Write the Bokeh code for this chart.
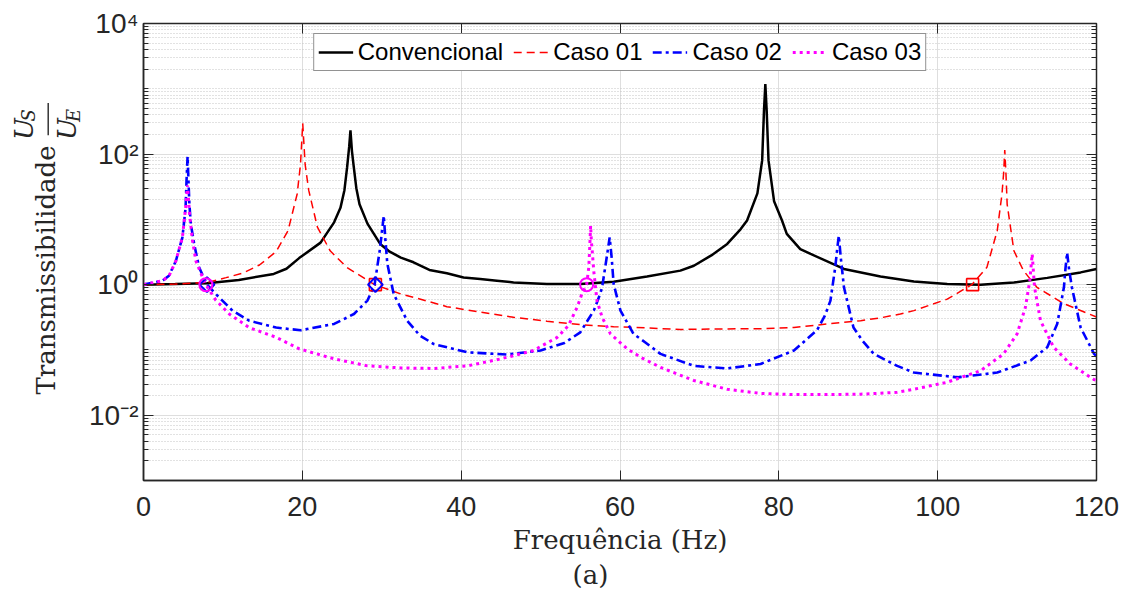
import math
from bokeh.plotting import figure
from bokeh.models import (Range1d, FixedTicker, LogAxis, LinearAxis,
                          CustomJSTickFormatter, Title)
from bokeh.core.properties import value
from bokeh.layouts import row
from bokeh.embed import file_html
from bokeh.resources import INLINE

# ---------------- data ----------------
freq_conv = [0, 4, 8, 12, 16.4, 18.0, 19.6, 22.3, 24.0, 24.8, 25.3, 25.64, 25.9, 26.06, 26.25, 26.48,
             26.8, 27.2, 28.2, 29.8, 31.0, 32.4, 34.0, 36.0, 38.2, 40.3, 42.4, 44.5, 46.6, 50.8,
             55.0, 59.2, 63.4, 67.6, 69.3, 71.5, 73.5, 75.2, 76.0, 77.3, 77.9, 78.13, 78.3, 78.47,
             78.7, 79.4, 80.4, 81.0, 82.7, 84.0, 88.2, 92.8, 97.0, 101.2, 105.4, 109.6, 113.8,
             118.0, 120]
trans_conv = [1.0, 1.02, 1.05, 1.18, 1.46, 1.75, 2.55, 4.4, 9.0, 15, 28, 63, 130, 230, 110, 63,
              30, 17, 8.6, 4.2, 3.2, 2.6, 2.2, 1.68, 1.49, 1.29, 1.22, 1.15, 1.08, 1.02,
              1.02, 1.11, 1.33, 1.64, 1.95, 2.8, 4.2, 7.1, 9.6, 25, 80, 460, 1180, 460,
              80, 19, 9.6, 6, 3.5, 2.95, 1.74, 1.33, 1.12, 1.02, 1.0, 1.08, 1.27,
              1.54, 1.74]

freq_c1 = [0, 4, 8, 10.4, 12.5, 14.6, 16.7, 18.2, 19.35, 19.77, 20.05, 20.35, 20.8, 21.9, 23.5,
           25.6, 29.1, 32.4, 34.0, 38.2, 42.4, 46.6, 50.8, 55.0, 59.2, 63.4, 67.6, 73.5, 78.0,
           81.9, 86.1, 90.3, 92.8, 95.3, 97.0, 101.2, 104.3, 106.2, 107.5, 108.1, 108.3, 108.45,
           108.6, 108.75, 109.6, 110.8, 112.5, 115.9, 120]
trans_c1 = [1.0, 1.02, 1.08, 1.28, 1.5, 2.0, 3.2, 6.7, 24.5, 70, 295, 70, 28, 7.6, 3.3,
            1.84, 1.0, 0.72, 0.64, 0.46, 0.38, 0.316, 0.275, 0.244, 0.227, 0.217, 0.206, 0.21, 0.212,
            0.22, 0.25, 0.28, 0.31, 0.355, 0.4, 0.6, 1.0, 1.84, 6.7, 24.5, 50, 115,
            50, 17, 3.3, 1.64, 0.91, 0.51, 0.32]

freq_c2 = [0, 2.4, 3.2, 4.07, 4.9, 5.3, 5.42, 5.55, 5.66, 5.78, 5.96, 6.38, 7.0, 8.0, 9.1, 11.2,
           13.3, 16.7, 19.8, 24.0, 26.5, 28.2, 29.1, 29.8, 30.05, 30.26, 30.45, 30.7, 31.5, 33.2,
           34.8, 36.55, 40.8, 45.8, 50.0, 53.0, 55.0, 55.9, 56.7, 57.5, 57.75, 58.4, 58.7, 58.95,
           59.2, 60.06, 61.7, 63.2, 65.1, 69.3, 73.5, 77.7, 81.9, 84.8, 85.8, 86.5, 87.1, 87.35,
           87.55, 87.8, 88.2, 89.4, 90.5, 91.95, 94.9, 97.0, 102.5, 107.5, 111.7, 113.8, 115.05,
           115.9, 116.1, 116.3, 116.55, 116.9, 118.0, 119.7, 120]
trans_c2 = [1.0, 1.15, 1.37, 2.3, 5.3, 15, 40, 91, 40, 17, 8.5, 4.2, 1.84, 1.0, 0.72, 0.4,
            0.28, 0.22, 0.2, 0.25, 0.355, 0.57, 1.0, 3.7, 7, 11.4, 5, 2.1, 0.72, 0.28,
            0.166, 0.123, 0.092, 0.085, 0.098, 0.128, 0.186, 0.28, 0.4, 0.72, 0.91, 3.0, 5.3, 2.6,
            1.02, 0.4, 0.176, 0.13, 0.087, 0.057, 0.052, 0.061, 0.098, 0.2, 0.335, 0.57, 1.84, 3.5,
            5.6, 2.6, 0.91, 0.22, 0.14, 0.087, 0.057, 0.045, 0.038, 0.045, 0.069, 0.11, 0.25,
            0.91, 1.8, 3.1, 1.7, 0.91, 0.22, 0.087, 0.08]

freq_c3 = [0, 2.4, 3.2, 4.07, 4.9, 5.3, 5.45, 5.55, 5.65, 5.8, 6.17, 6.6, 7.43, 7.85, 9.1,
           10.8, 13.3, 16.7, 19.6, 24.0, 28.2, 32.4, 36.55, 40.8, 45.0, 49.1, 52.1, 53.5, 54.6,
           55.2, 55.8, 56.07, 56.2, 56.3, 56.4, 56.5, 56.7, 57.1, 57.75, 58.8, 60.9, 62.8, 65.1,
           69.3, 73.5, 77.7, 81.9, 86.1, 90.3, 94.9, 97.0, 101.2, 105.4, 108.3, 110.0, 111.05,
           111.6, 111.9, 112.2, 112.95, 114.6, 116.7, 119.7, 120]
trans_c3 = [1.0, 1.15, 1.35, 2.3, 5.3, 15, 25, 33, 22, 12, 4.7, 2.3, 1.3, 1.0, 0.58,
            0.355, 0.22, 0.156, 0.104, 0.073, 0.057, 0.053, 0.052, 0.057, 0.073, 0.098, 0.156, 0.235, 0.45,
            0.72, 1.0, 1.84, 4.0, 8.0, 4.5, 3.3, 1.6, 0.57, 0.316, 0.176, 0.104, 0.075, 0.054,
            0.034, 0.025, 0.0216, 0.0207, 0.0207, 0.021, 0.0224, 0.025, 0.032, 0.048, 0.087, 0.176, 0.45,
            1.15, 2.95, 0.91, 0.28, 0.11, 0.061, 0.035, 0.034]

mark_c1_f = [29.2, 104.4]
mark_c1_t = [1.0, 1.0]
mark_c2_f = [8.0, 29.2]
mark_c2_t = [1.0, 1.0]
mark_c3_f = [7.85, 55.8]
mark_c3_t = [1.0, 1.0]

series_names = ["Convencional", "Caso 01", "Caso 02", "Caso 03"]
x_ticks = [0, 20, 40, 60, 80, 100, 120]
y_ticks = [1e-2, 1e0, 1e2, 1e4]
y_minor = [m * 10.0 ** k for k in range(-3, 4) for m in range(1, 10)
           if not (m == 1 and k % 2 == 0)]

AX = "#262626"
SERIF = "DejaVu Serif"

# ---------------- y-label strip (left of the axes), coordinates = pixels ----------------
LAB_W = 84
H = 597
lab = figure(width=LAB_W, height=H, x_range=Range1d(0, LAB_W), y_range=Range1d(0, H),
             x_axis_location=None, y_axis_location=None, output_backend="svg",
             toolbar_location=None, min_border=0, outline_line_color=None, title=None,
             background_fill_color="white", border_fill_color="white")
lab.grid.visible = False
lab.text(x=[45], y=[H - 322], text=["Transmissibilidade"], angle=math.pi / 2,
         text_font=value(SERIF), text_font_size="26px", text_color=AX,
         text_align="center", text_baseline="middle")
lab.text(x=[23, 66], y=[H - 138, H - 138], text=["U", "U"], angle=math.pi / 2,
         text_font=value(SERIF), text_font_style="italic", text_font_size="26px",
         text_color=AX, text_align="center", text_baseline="middle")
lab.text(x=[28, 73], y=[H - 120, H - 120], text=["S", "E"], angle=math.pi / 2,
         text_font=value(SERIF), text_font_style="italic", text_font_size="18px",
         text_color=AX, text_align="center", text_baseline="middle")
lab.segment(x0=[47.7], y0=[H - 146], x1=[47.7], y1=[H - 104], line_color=AX, line_width=1.4)

# ---------------- main figure ----------------
p = figure(frame_width=953, frame_height=457,
           min_border_left=143 - LAB_W, min_border_right=26, min_border_top=23,
           min_border_bottom=117,
           x_range=Range1d(0, 120), y_range=Range1d(1e-3, 1e4), y_axis_type="log",
           output_backend="svg", toolbar_location=None,
           background_fill_color="white", border_fill_color="white")
p.outline_line_color = AX
p.outline_line_width = 1.5

xt = FixedTicker(ticks=x_ticks, minor_ticks=[])
yt = FixedTicker(ticks=y_ticks, minor_ticks=y_minor)
p.xaxis.ticker = xt
p.yaxis.ticker = yt
p.xgrid.ticker = xt
p.ygrid.ticker = yt

sup_fmt = CustomJSTickFormatter(code="""
const e = Math.round(Math.log10(tick));
const sup = {"-":"\u207b","0":"\u2070","1":"\u00b9","2":"\u00b2","3":"\u00b3","4":"\u2074",
             "5":"\u2075","6":"\u2076","7":"\u2077","8":"\u2078","9":"\u2079"};
return "10" + String(e).split("").map(c => sup[c]).join("");
""")
p.yaxis.formatter = sup_fmt

for ax in (p.xaxis[0], p.yaxis[0]):
    ax.axis_line_color = AX
    ax.axis_line_width = 1.5
    ax.major_tick_line_color = AX
    ax.minor_tick_line_color = AX
    ax.major_tick_in = 10
    ax.major_tick_out = 0
    ax.minor_tick_in = 5
    ax.minor_tick_out = 0
    ax.major_label_text_font = "Liberation Sans"
    ax.major_label_text_color = AX

p.xaxis.major_label_text_font_size = "27px"
p.yaxis.major_label_text_font_size = "28px"
p.xaxis.major_label_standoff = 16
p.yaxis.major_label_standoff = 5
p.xaxis.axis_label = "Frequência (Hz)"
p.xaxis.axis_label_text_font = SERIF
p.xaxis.axis_label_text_font_style = "normal"
p.xaxis.axis_label_text_font_size = "26px"
p.xaxis.axis_label_text_color = AX
p.xaxis.axis_label_standoff = 6

# mirrored axes (box with ticks on all sides), no labels
blank_fmt = CustomJSTickFormatter(code='return "";')
top_ax = LinearAxis(ticker=xt, formatter=blank_fmt, major_tick_in=10, major_tick_out=0,
                    minor_tick_in=0, minor_tick_out=0, major_label_standoff=0,
                    axis_line_color=AX, major_tick_line_color=AX)
right_ax = LogAxis(ticker=yt, formatter=blank_fmt, major_tick_in=10, major_tick_out=0,
                   minor_tick_in=5, minor_tick_out=0, major_label_standoff=0,
                   axis_line_color=AX, major_tick_line_color=AX, minor_tick_line_color=AX)
p.add_layout(top_ax, "above")
p.add_layout(right_ax, "right")

p.add_layout(Title(text="(a)", align="left", offset=429, text_font=SERIF,
                   text_font_size="26px", text_font_style="normal", text_color=AX,
                   standoff=0), "below")

p.xgrid.grid_line_color = "#dedede"
p.xgrid.grid_line_width = 1
p.ygrid.grid_line_color = "#dedede"
p.ygrid.grid_line_width = 1
p.ygrid.minor_grid_line_color = "#c4c4c4"
p.ygrid.minor_grid_line_dash = "1 2"
p.ygrid.minor_grid_line_width = 1

# ---------------- curves ----------------
p.line(freq_conv, trans_conv, line_color="black", line_width=2.5, legend_label=series_names[0])
p.line(freq_c1, trans_c1, line_color="#ff0000", line_width=1.5, line_dash="8 5",
       legend_label=series_names[1])
p.line(freq_c2, trans_c2, line_color="#0000ff", line_width=2.6, line_dash="9 4 3 4",
       legend_label=series_names[2])
p.line(freq_c3, trans_c3, line_color="#ff00ff", line_width=3, line_dash="3 4",
       legend_label=series_names[3])

p.scatter(mark_c1_f, mark_c1_t, marker="square", size=12, fill_color=None,
          line_color="#ff0000", line_width=1.6)
p.scatter(mark_c2_f, mark_c2_t, marker="square", angle=math.pi / 4, size=10.5, fill_color=None,
          line_color="#0000ff", line_width=2)
p.scatter(mark_c3_f, mark_c3_t, marker="circle", size=13, fill_color=None,
          line_color="#ff00ff", line_width=2)

# ---------------- legend ----------------
lg = p.legend[0]
lg.location = "top_center"
lg.orientation = "horizontal"
lg.label_text_font = "Liberation Sans"
lg.label_text_font_size = "24px"
lg.label_text_color = "black"
lg.glyph_width = 35
lg.glyph_height = 26
lg.label_height = 26
lg.label_standoff = 5
lg.spacing = 10
lg.padding = 4
lg.margin = 10
lg.border_line_color = AX
lg.border_line_width = 1
lg.background_fill_alpha = 1

layout = row(lab, p, spacing=0)
open("out.html", "w").write(file_html(layout, INLINE))
